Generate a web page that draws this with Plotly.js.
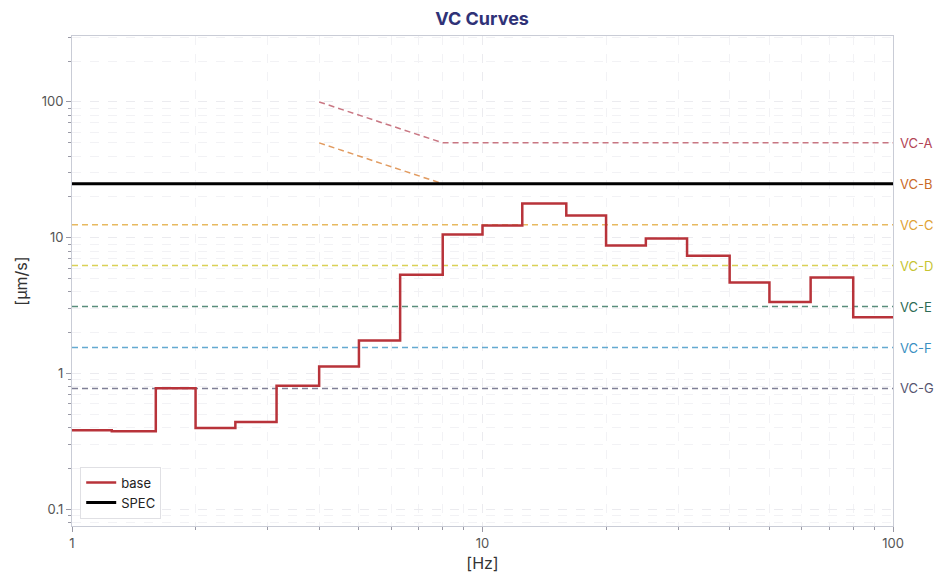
<!DOCTYPE html>
<html>
<head>
<meta charset="utf-8">
<script src="https://cdn.plot.ly/plotly-3.0.1.min.js"></script>
<style>
  body { margin: 0; background: #fff; }
  #myDiv { width: 949px; height: 587px; }
</style>
</head>
<body>
<div id="myDiv"></div>
<script>
// one-third octave band edges [Hz] and measured velocity per band [um/s]
var bandEdges = [1, 1.25, 1.6, 2, 2.5, 3.15, 4, 5, 6.3, 8, 10, 12.5, 16, 20, 25, 31.5, 40, 50, 63, 80, 100];
var baseVel = [0.384, 0.377, 0.781, 0.399, 0.441, 0.816, 1.13, 1.76, 5.35, 10.6, 12.3, 17.9, 14.6, 8.8, 9.9, 7.38, 4.70, 3.37, 5.11, 2.61];

var specLevel = 25;

// VC criterion curves
var vcNames = ['VC-A', 'VC-B', 'VC-C', 'VC-D', 'VC-E', 'VC-F', 'VC-G'];
var vcFreq = [[4, 8, 100], [4, 8, 100], [1, 100], [1, 100], [1, 100], [1, 100], [1, 100]];
var vcVel = [[100, 50, 50], [50, 25, 25], [12.5, 12.5], [6.25, 6.25], [3.12, 3.12], [1.56, 1.56], [0.78, 0.78]];
var vcColors = ['#c0606e', '#dd8a45', '#e3ad45', '#d4c93a', '#3d7a66', '#4a9cc9', '#6b6b85'];
var vcTextColors = ['#b24455', '#c96a28', '#e0a235', '#c6c432', '#2d6b55', '#3a8fc2', '#555570'];

var traces = [];
var annotations = [];
for (let i = 0; i < vcNames.length; i++) {
  traces.push({
    x: vcFreq[i],
    y: vcVel[i],
    type: 'scatter',
    mode: 'lines',
    name: vcNames[i],
    showlegend: false,
    opacity: 0.85,
    line: { color: vcColors[i], width: 1.5, dash: '6px,4px' },
    hoverinfo: 'skip'
  });
  var last = vcVel[i][vcVel[i].length - 1];
  annotations.push({
    x: 1, xref: 'paper', xanchor: 'left', xshift: 5,
    y: Math.log10(last), yref: 'y', yanchor: 'middle',
    text: vcNames[i], showarrow: false,
    font: { size: 13, color: vcTextColors[i] }
  });
}

// step curve: repeat last value so the final band reaches 100 Hz
var stepY = baseVel.concat([baseVel[baseVel.length - 1]]);
traces.push({
  x: bandEdges,
  y: stepY,
  type: 'scatter',
  mode: 'lines',
  name: 'base',
  line: { color: '#b8333a', width: 2.5, shape: 'hv' }
});

traces.push({
  x: [bandEdges[0], bandEdges[bandEdges.length - 1]],
  y: [specLevel, specLevel],
  type: 'scatter',
  mode: 'lines',
  name: 'SPEC',
  line: { color: '#000000', width: 3 }
});

var axisCommon = {
  type: 'log',
  dtick: 1,
  showline: true,
  mirror: true,
  linecolor: '#c9ccd6',
  linewidth: 1,
  ticks: 'outside',
  ticklen: 5,
  tickcolor: '#9a9aa6',
  gridcolor: '#ebebef',
  griddash: 'dash',
  zeroline: false,
  tickfont: { size: 13, color: '#555' },
  minor: {
    dtick: 'D1',
    ticks: 'outside',
    ticklen: 3,
    tickcolor: '#9a9aa6',
    showgrid: true,
    gridcolor: '#f2f2f5',
    griddash: 'dash'
  }
};

var layout = {
  width: 949,
  height: 587,
  margin: { l: 72, r: 56, t: 36, b: 61 },
  paper_bgcolor: '#ffffff',
  plot_bgcolor: '#ffffff',
  font: { family: 'Inter, "Open Sans", sans-serif', color: '#444' },
  title: {
    text: '<b>VC Curves</b>',
    x: 0.508, xanchor: 'center', y: 0.968, yanchor: 'middle',
    font: { size: 18, color: '#2f3277' }
  },
  xaxis: Object.assign({}, axisCommon, {
    range: [0, 2],
    title: { text: '[Hz]', font: { size: 16, color: '#333' }, standoff: 8 }
  }),
  yaxis: Object.assign({}, axisCommon, {
    range: [-1.12, 2.485],
    title: { text: '[µm/s]', font: { size: 16, color: '#333' }, standoff: 10 }
  }),
  legend: {
    x: 0.01, y: 0.015, xanchor: 'left', yanchor: 'bottom',
    bgcolor: '#ffffff',
    bordercolor: '#e0e0e4',
    borderwidth: 1,
    font: { size: 13, color: '#222' }
  },
  annotations: annotations,
  showlegend: true
};

Plotly.newPlot('myDiv', traces, layout, { displayModeBar: false });
</script>
</body>
</html>
